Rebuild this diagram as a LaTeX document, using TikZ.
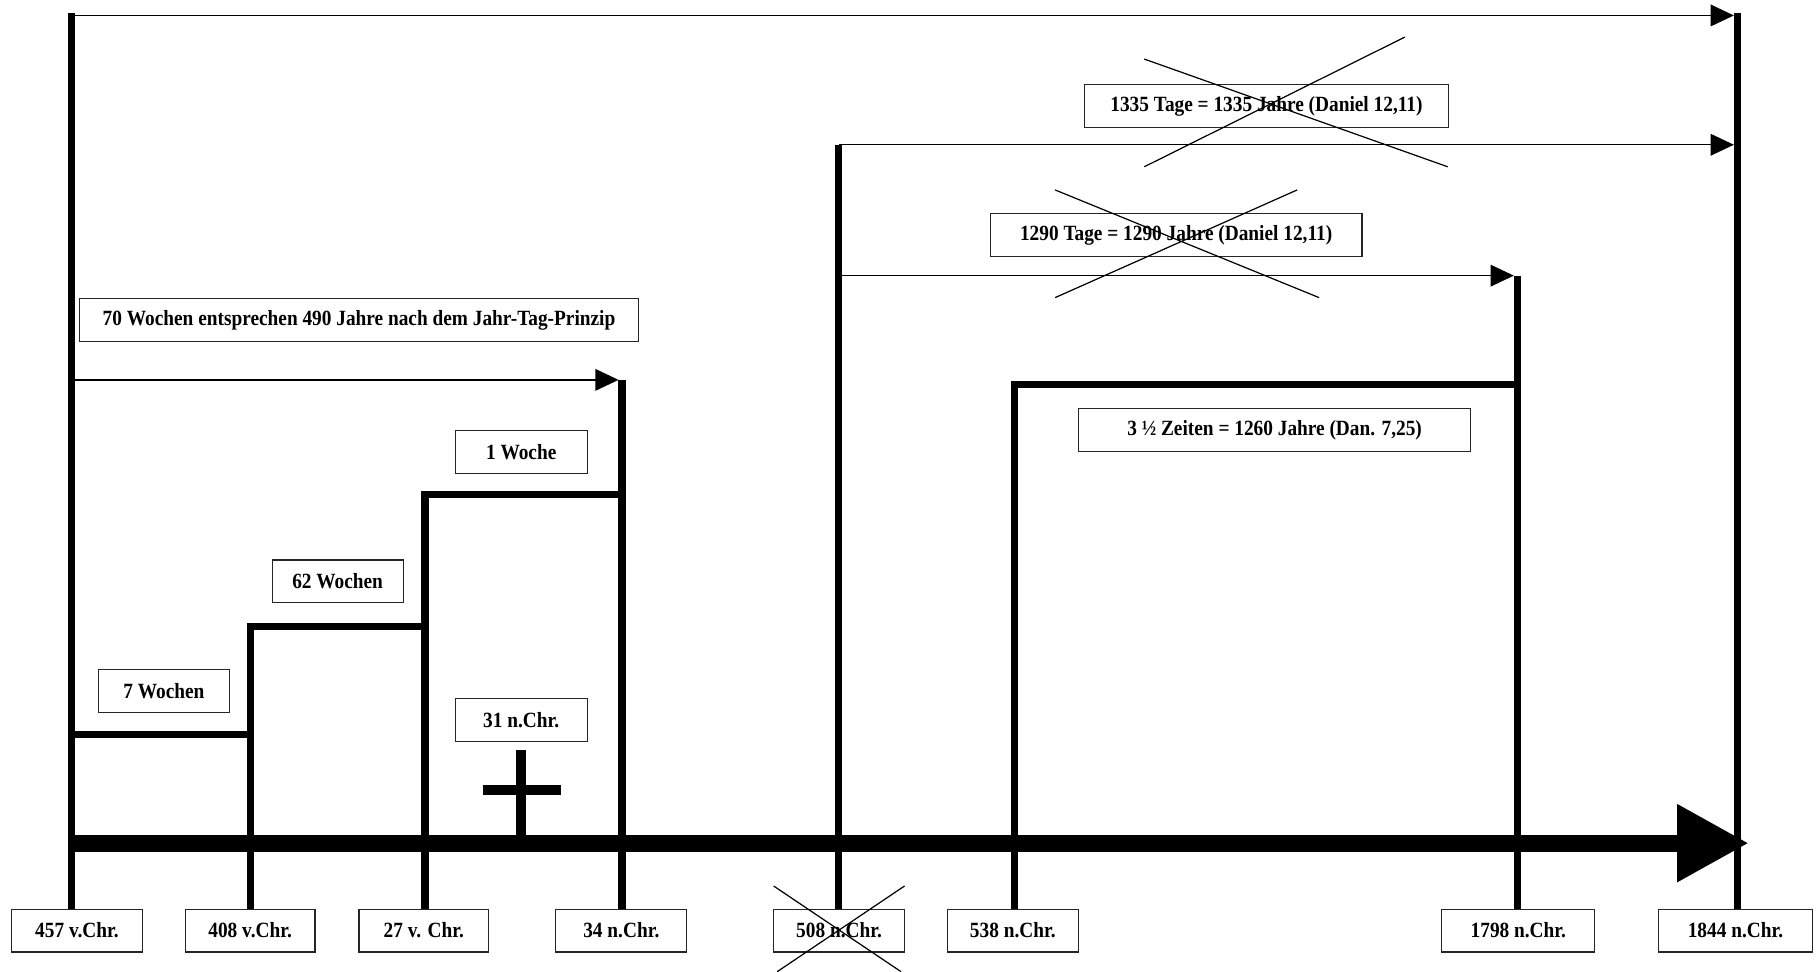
\documentclass[tikz,border=0pt]{standalone}
\usepackage{fontspec}
\setmainfont{Liberation Serif}[FakeStretch=0.89]
\usetikzlibrary{arrows.meta}

\begin{document}
\begin{tikzpicture}[x=0.03cm,y=-0.03cm,
   box/.style={draw=black!85,line width=0.8pt,fill=white,minimum height=1.11cm,inner sep=1pt,
     font=\fontsize{16}{18}\selectfont\bfseries},
   bar/.style={line width=5.3pt},
   axis/.style={line width=12.5pt,-{Triangle[length=1.86cm,width=1.9cm]}},
   span/.style={line width=1pt,-{Triangle[length=0.6cm,width=0.56cm]},shorten >=2.5pt},
   strike/.style={line width=0.9pt}]
   \useasboundingbox (0,0) rectangle (1568,839);

   \node [box,minimum width=3.39cm] (d457)  at (66.5,803.5)  {457 v.Chr.};
   \node [box,minimum width=3.36cm] (d408)  at (216,803.5)   {408 v.Chr.};
   \node [box,minimum width=3.36cm] (d27)   at (366,803.5)   {27 v. Chr.};
   \node [box,minimum width=3.39cm] (d34)   at (536.5,803.5) {34 n.Chr.};
   \node [box,minimum width=3.39cm] (d508)  at (724.5,803.5) {508 n.Chr.};
   \node [box,minimum width=3.39cm] (d538)  at (874.5,803.5) {538 n.Chr.};
   \node [box,minimum width=3.96cm] (d1798) at (1311,803.5)  {1798 n.Chr.};
   \node [box,minimum width=3.99cm] (d1844) at (1498.5,803.5) {1844 n.Chr.};

   \node [box,minimum width=14.46cm] (w70) at (310,276.5) {70 Wochen entsprechen 490 Jahre nach dem Jahr-Tag-Prinzip};
   \node [box,minimum width=3.42cm] (w1)  at (450,390)    {1 Woche};
   \node [box,minimum width=3.39cm] (w62) at (291.5,502)  {62 Wochen};
   \node [box,minimum width=3.39cm] (w7)  at (141.5,596.5) {7 Wochen};
   \node [box,minimum width=3.42cm] (c31) at (450,621.5)  {31 n.Chr.};
   \node [box,minimum width=10.17cm] (z35) at (1100.5,371.5) {3 ½ Zeiten = 1260 Jahre (Dan. 7,25)};
   \node [box,minimum width=9.45cm] (j1335) at (1093.5,91.5) {1335 Tage = 1335 Jahre (Daniel 12,11)};
   \node [box,minimum width=9.63cm] (j1290) at (1015.5,203)  {1290 Tage = 1290 Jahre (Daniel 12,11)};

   \coordinate (t457)  at (62,11);
   \coordinate (t408)  at (216,541);
   \coordinate (t27)   at (367,427);
   \coordinate (t34)   at (537,328);
   \coordinate (t508)  at (724,125);
   \coordinate (t538)  at (876,332);
   \coordinate (t1798) at (1310,238);
   \coordinate (t1844) at (1500,11);
   \coordinate (s457)  at (62,634);
   \coordinate (a0)    at (62,728);
   \coordinate (a1)    at (1510,728);

   \draw[bar] (d457.north -| t457) -- (t457);
   \draw[bar] (s457) -- (s457 -| t408);
   \draw[bar] (d408.north -| t408) -- (t408) -- (t408 -| t27);
   \draw[bar] (d27.north -| t27) -- (t27) -- (t27 -| t34);
   \draw[bar] (d34.north -| t34) -- (t34);
   \draw[bar] (d508.north -| t508) -- (t508);
   \draw[bar] (d538.north -| t538) -- (t538) -- (t538 -| t1798);
   \draw[bar] (d1798.north -| t1798) -- (t1798);
   \draw[bar] (d1844.north -| t1844) -- (t1844);

   \draw[axis] (a0) -- (a1);

   \draw[span] ([yshift=-2pt]t457) -- ([yshift=-2pt]t1844);
   \draw[span] (t508) -- (t508 -| t1844);
   \draw[span] (t508 |- t1798) -- (t1798);
   \draw[span] (t457 |- t34) -- (t34);

   \draw[line width=7pt] (450,648) -- (450,728) (417,682) -- (484,682);

   \draw[strike] (988,51) -- (1250,144) (1213,32) -- (988,144);
   \draw[strike] (911,164) -- (1139,257) (1120,164) -- (911,257);
   \draw[strike] (668,765) -- (778,839) (781,765) -- (671,839);
\end{tikzpicture}
\end{document}
